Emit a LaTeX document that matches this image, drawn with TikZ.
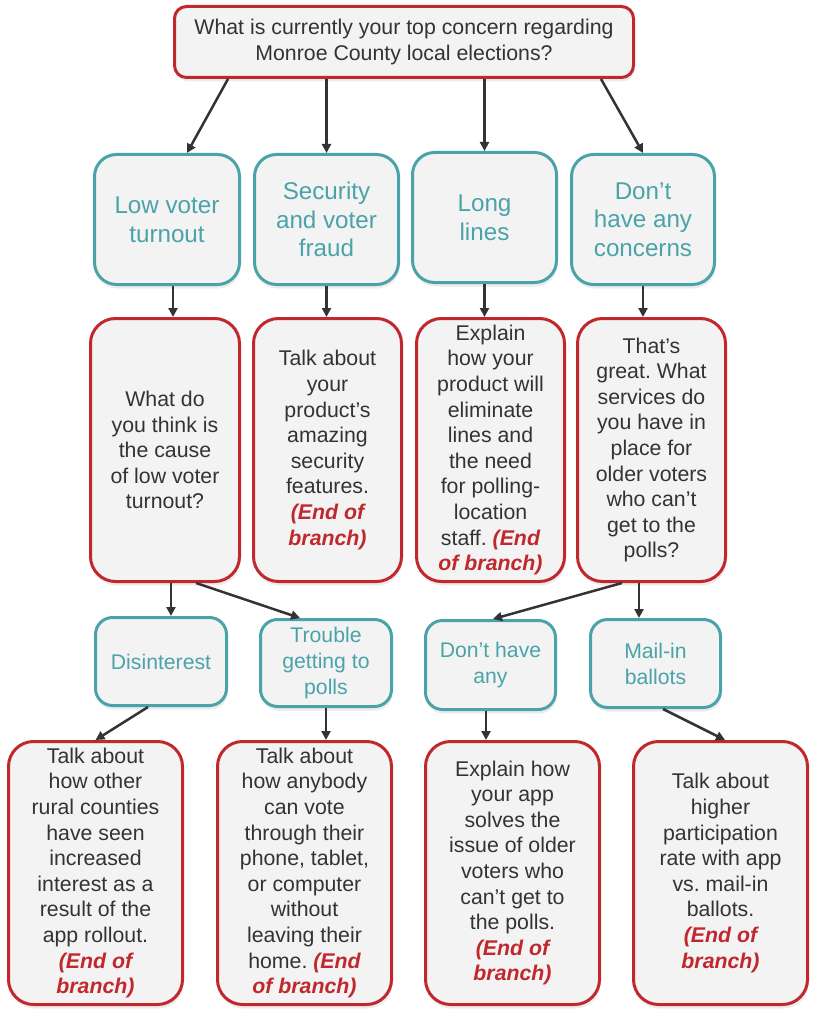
\documentclass[tikz,border=0pt]{standalone}
\usepackage{fontspec}
\setmainfont{Liberation Sans}
\usetikzlibrary{arrows.meta,shadows}
\frenchspacing

\definecolor{boxred}{HTML}{C0282D}
\definecolor{boxteal}{HTML}{4AA3A8}
\definecolor{boxfill}{HTML}{F3F3F3}
\definecolor{txtgray}{HTML}{333333}
\newcommand{\eob}[1]{{\color{boxred}\bfseries\itshape #1}}

\begin{document}
\begin{tikzpicture}[x=1pt,y=-1pt,
    qbox/.style={draw=boxred, line width=3pt, fill=boxfill, rounded corners=25pt,
        align=center, text=txtgray, font=\fontsize{21.3}{25.6}\selectfont,
        drop shadow={shadow xshift=1pt, shadow yshift=-4pt, opacity=0.15}},
    abox/.style={draw=boxteal, line width=3pt, fill=boxfill, rounded corners=22pt,
        align=center, text=boxteal, font=\fontsize{24.2}{28.6}\selectfont,
        drop shadow={shadow xshift=1pt, shadow yshift=-4pt, opacity=0.15}},
    sbox/.style={abox, rounded corners=17pt, font=\fontsize{21.2}{26}\selectfont},
    arr/.style={draw=txtgray, line width=2.5pt, -{Triangle[length=9pt,width=9pt]}}]
    \useasboundingbox (0,0) rectangle (817,1024);

    % question
    \node[qbox, rounded corners=12pt, minimum width=459pt, minimum height=71pt] (top) at (404,42)
        {What is currently your top concern regarding\\Monroe County local elections?};

    % concerns
    \node[abox, minimum width=145pt, minimum height=130pt] (c1) at (167,219.5) {Low voter\\turnout};
    \node[abox, minimum width=144pt, minimum height=130pt] (c2) at (326.5,219.5) {Security\\and voter\\fraud};
    \node[abox, minimum width=144pt, minimum height=130pt] (c3) at (484.5,217.5) {Long\\lines};
    \node[abox, minimum width=143pt, minimum height=130pt] (c4) at (643,219.5) {Don’t\\have any\\concerns};

    % answers
    \node[qbox, minimum width=149pt, minimum height=263pt] (r1) at (165,450)
        {What do\\you think is\\the cause\\of low voter\\turnout?};
    \node[qbox, minimum width=148pt, minimum height=263pt] (r2) at (327.5,450)
        {Talk about\\your\\product’s\\amazing\\security\\features.\\\eob{(End of}\\\eob{branch)}};
    \node[qbox, minimum width=148pt, minimum height=263pt] (r3) at (490.5,450)
        {Explain\\how your\\product will\\eliminate\\lines and\\the need\\for polling-\\location\\staff. \eob{(End}\\\eob{of branch)}};
    \node[qbox, minimum width=148pt, minimum height=263pt] (r4) at (651.5,450)
        {That’s\\great. What\\services do\\you have in\\place for\\older voters\\who can’t\\get to the\\polls?};

    % follow-ups
    \node[sbox, minimum width=131pt, minimum height=88pt] (d1) at (161,661.5) {Disinterest};
    \node[sbox, minimum width=131pt, minimum height=87pt] (d2) at (326,663) {Trouble\\getting to\\polls};
    \node[sbox, minimum width=130pt, minimum height=89pt] (d3) at (490.5,665) {Don’t have\\any};
    \node[sbox, minimum width=130pt, minimum height=88pt] (d4) at (655.5,663.5) {Mail-in\\ballots};

    % pitches
    \node[qbox, minimum width=174pt, minimum height=263pt] (e1) at (95.5,873)
        {Talk about\\how other\\rural counties\\have seen\\increased\\interest as a\\result of the\\app rollout.\\\eob{(End of}\\\eob{branch)}};
    \node[qbox, minimum width=174pt, minimum height=263pt] (e2) at (304.5,873)
        {Talk about\\how anybody\\can vote\\through their\\phone, tablet,\\or computer\\without\\leaving their\\home. \eob{(End}\\\eob{of branch)}};
    \node[qbox, minimum width=174pt, minimum height=263pt] (e3) at (512.5,873)
        {Explain how\\your app\\solves the\\issue of older\\voters who\\can’t get to\\the polls.\\\eob{(End of}\\\eob{branch)}};
    \node[qbox, minimum width=174pt, minimum height=263pt] (e4) at (720.5,873)
        {Talk about\\higher\\participation\\rate with app\\vs. mail-in\\ballots.\\\eob{(End of}\\\eob{branch)}};

    % connectors
    \draw[arr] ([xshift=-176pt]top.south) -- ([xshift=20pt]c1.north);
    \draw[arr] (top.south -| c2.north) -- (c2.north);
    \draw[arr] (top.south -| c3.north) -- (c3.north);
    \draw[arr] ([xshift=197pt]top.south) -- (c4.north);

    \draw[arr] ([xshift=6pt]c1.south) -- ([xshift=8pt]r1.north);
    \draw[arr] (c2.south) -- (c2.south |- r2.north);
    \draw[arr] (c3.south) -- (c3.south |- r3.north);
    \draw[arr] (c4.south) -- (c4.south |- r4.north);

    \draw[arr] ([xshift=6pt]r1.south) -- ([xshift=6pt]r1.south |- d1.north);
    \draw[arr] ([xshift=31pt]r1.south) -- ([xshift=-26pt]d2.north);
    \draw[arr] ([xshift=-29.5pt]r4.south) -- ([xshift=2.5pt]d3.north);
    \draw[arr] ([xshift=-12.5pt]r4.south) -- ([xshift=-12.5pt]r4.south |- d4.north);

    \draw[arr] ([xshift=-13pt]d1.south) -- (e1.north);
    \draw[arr] (d2.south) -- (d2.south |- e2.north);
    \draw[arr] ([xshift=-4.5pt]d3.south) -- ([xshift=-4.5pt]d3.south |- e3.north);
    \draw[arr] ([xshift=7.5pt]d4.south) -- ([xshift=4.5pt]e4.north);
\end{tikzpicture}
\end{document}
